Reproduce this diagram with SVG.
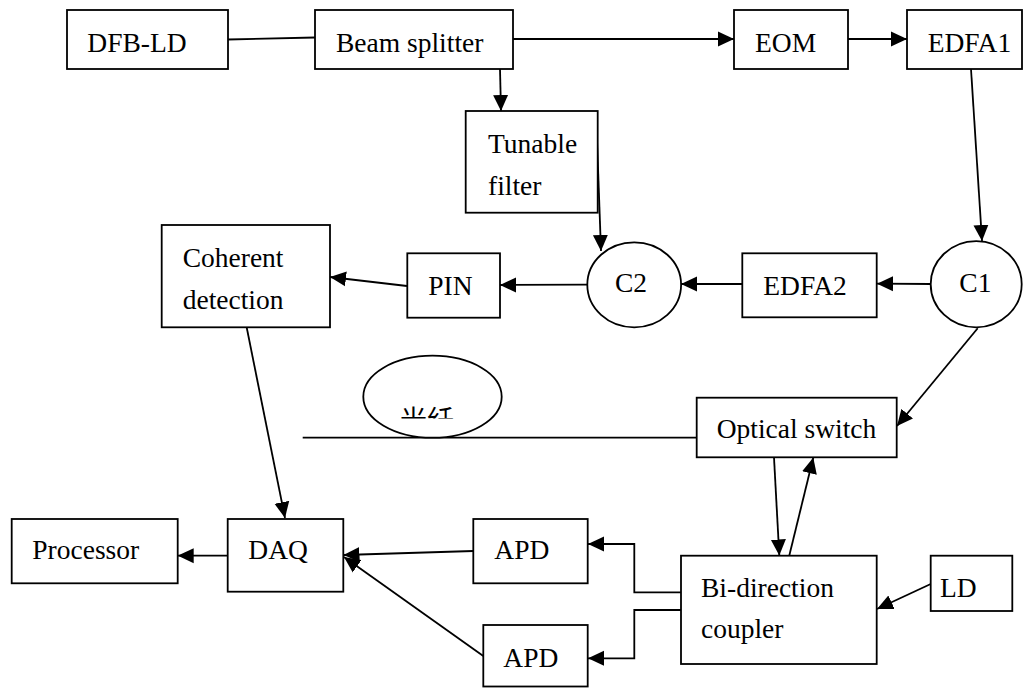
<svg xmlns="http://www.w3.org/2000/svg" width="1036" height="688" viewBox="0 0 1036 688">
<style>
.box{fill:#fff;stroke:#000;stroke-width:1.8}
.ln{fill:none;stroke:#000;stroke-width:1.8}
.arr{fill:none;stroke:#000;stroke-width:1.8;marker-end:url(#ah)}
.t{font-family:"Liberation Serif","Times New Roman",serif;font-size:27.5px;fill:#000}
.cjk{font-family:"Noto Sans CJK SC",sans-serif;font-size:27px;fill:#000}
</style>
<defs>
<marker id="ah" viewBox="0 0 16 16" refX="16" refY="8" markerWidth="16" markerHeight="16" markerUnits="userSpaceOnUse" orient="auto">
<path d="M0,0.5 L16,8 L0,15.5 z" fill="#000"/>
</marker>
<clipPath id="fclip"><rect x="360" y="350" width="150" height="68.5"/></clipPath>
</defs>
<rect width="1036" height="688" fill="#fff"/>
<g id="connectors">
<line class="ln" x1="228" y1="39.5" x2="315" y2="37.5"/>
<line class="arr" x1="513" y1="39" x2="734" y2="39"/>
<line class="arr" x1="848" y1="39" x2="907" y2="39"/>
<line class="arr" x1="500" y1="69" x2="501" y2="111"/>
<line class="arr" x1="971" y1="69" x2="982" y2="241"/>
<line class="arr" x1="597" y1="140" x2="601" y2="251"/>
<line class="arr" x1="931" y1="284" x2="877" y2="283.7"/>
<line class="arr" x1="742" y1="284" x2="681" y2="284"/>
<line class="arr" x1="587" y1="284.7" x2="500" y2="285"/>
<line class="arr" x1="407" y1="286" x2="330" y2="277"/>
<line class="arr" x1="246.7" y1="327.5" x2="285" y2="518"/>
<line class="arr" x1="977.7" y1="328.3" x2="897" y2="426"/>
<line class="ln" x1="302.7" y1="437.7" x2="697" y2="437.7"/>
<line class="arr" x1="774" y1="457.5" x2="779.3" y2="555.5"/>
<line class="arr" x1="789.3" y1="555.5" x2="813.3" y2="457.5"/>
<line class="arr" x1="930.7" y1="584" x2="877" y2="609"/>
<polyline class="arr" points="681,592.3 634.3,592.3 634.3,544 588,544"/>
<polyline class="arr" points="681,610 634.3,610 634.3,658.3 588,658.3"/>
<line class="arr" x1="227.7" y1="555.7" x2="177.7" y2="555.7"/>
<line class="arr" x1="473.3" y1="551" x2="343.5" y2="555"/>
<line class="arr" x1="483.3" y1="656" x2="344" y2="557"/>
</g>
<g id="dfb-ld"><rect class="box" x="67" y="10" width="161" height="59"/><text class="t" x="87.3" y="52">DFB-LD</text></g>
<g id="beam-splitter"><rect class="box" x="315" y="10" width="198" height="59"/><text class="t" x="336" y="52">Beam splitter</text></g>
<g id="eom"><rect class="box" x="734" y="10" width="114" height="59"/><text class="t" x="755" y="52">EOM</text></g>
<g id="edfa1"><rect class="box" x="907" y="10" width="115" height="59"/><text class="t" x="927.7" y="52">EDFA1</text></g>
<g id="tunable-filter"><rect class="box" x="465.7" y="111" width="132" height="101.7"/><text class="t" x="488" y="153">Tunable</text><text class="t" x="488" y="195">filter</text></g>
<g id="coherent-detection"><rect class="box" x="161.7" y="225" width="168.3" height="102.3"/><text class="t" x="182.7" y="266.7">Coherent</text><text class="t" x="182.7" y="308.5">detection</text></g>
<g id="pin"><rect class="box" x="407.3" y="253.3" width="92.7" height="64.4"/><text class="t" x="428.3" y="295">PIN</text></g>
<g id="c2"><ellipse class="box" cx="634.2" cy="284.8" rx="46.9" ry="42.5"/><text class="t" x="615" y="292">C2</text></g>
<g id="edfa2"><rect class="box" x="742.3" y="253.3" width="134.4" height="64"/><text class="t" x="763.3" y="295">EDFA2</text></g>
<g id="c1"><ellipse class="box" cx="976.2" cy="284.2" rx="45.5" ry="43.1"/><text class="t" x="959.3" y="292">C1</text></g>
<g id="fiber"><ellipse class="box" cx="432.5" cy="396.7" rx="69.2" ry="41"/><text class="cjk" x="400" y="430" clip-path="url(#fclip)">光纤</text></g>
<g id="optical-switch"><rect class="box" x="696.7" y="397.7" width="200" height="59.6"/><text class="t" x="716.7" y="438.3">Optical switch</text></g>
<g id="processor"><rect class="box" x="11.7" y="519" width="166" height="64.3"/><text class="t" x="32.3" y="559.3">Processor</text></g>
<g id="daq"><rect class="box" x="227.7" y="519" width="115.6" height="72.7"/><text class="t" x="248.3" y="559.3">DAQ</text></g>
<g id="apd1"><rect class="box" x="473.3" y="519" width="114.4" height="64.3"/><text class="t" x="494.3" y="559.3">APD</text></g>
<g id="apd2"><rect class="box" x="483.3" y="625" width="104.4" height="61.5"/><text class="t" x="503.3" y="666.7">APD</text></g>
<g id="bi-direction-coupler"><rect class="box" x="681" y="555.7" width="195.7" height="108.3"/><text class="t" x="701" y="596.7">Bi-direction</text><text class="t" x="701" y="637.5">coupler</text></g>
<g id="ld"><rect class="box" x="930.7" y="555.7" width="81.6" height="55.3"/><text class="t" x="940" y="596.7">LD</text></g>
</svg>
